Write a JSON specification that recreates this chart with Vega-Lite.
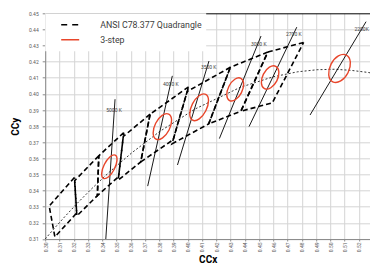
{
  "$schema": "https://vega.github.io/schema/vega-lite/v6.json",
  "autosize": "none",
  "width": 325,
  "height": 225.7,
  "padding": {"left": 45.2, "top": 13.3, "right": 0, "bottom": 27},
  "background": "white",
  "config": {
    "view": {"stroke": null},
    "font": "Roboto",
    "axis": {
      "labelFont": "Roboto", "labelFontSize": 5, "labelColor": "#595959",
      "gridColor": "#d4d4d4", "gridWidth": 1,
      "domainColor": "#8c8c8c", "tickColor": "#8c8c8c",
      "titleFont": "Roboto", "titleFontSize": 10, "titleFontWeight": "bold", "titleColor": "#000000"
    }
  },
  "datasets": {
    "quad": [
      {"cct": "2700K", "i": 0, "x": 0.4813, "y": 0.4319}, {"cct": "2700K", "i": 1, "x": 0.4562, "y": 0.4260}, {"cct": "2700K", "i": 2, "x": 0.4373, "y": 0.3893}, {"cct": "2700K", "i": 3, "x": 0.4593, "y": 0.3944}, {"cct": "2700K", "i": 4, "x": 0.4813, "y": 0.4319},
      {"cct": "3000K", "i": 0, "x": 0.4562, "y": 0.4260}, {"cct": "3000K", "i": 1, "x": 0.4299, "y": 0.4165}, {"cct": "3000K", "i": 2, "x": 0.4147, "y": 0.3814}, {"cct": "3000K", "i": 3, "x": 0.4373, "y": 0.3893}, {"cct": "3000K", "i": 4, "x": 0.4562, "y": 0.4260},
      {"cct": "3500K", "i": 0, "x": 0.4299, "y": 0.4165}, {"cct": "3500K", "i": 1, "x": 0.3996, "y": 0.4015}, {"cct": "3500K", "i": 2, "x": 0.3889, "y": 0.3690}, {"cct": "3500K", "i": 3, "x": 0.4147, "y": 0.3814}, {"cct": "3500K", "i": 4, "x": 0.4299, "y": 0.4165},
      {"cct": "4000K", "i": 0, "x": 0.4006, "y": 0.4044}, {"cct": "4000K", "i": 1, "x": 0.3736, "y": 0.3874}, {"cct": "4000K", "i": 2, "x": 0.3670, "y": 0.3578}, {"cct": "4000K", "i": 3, "x": 0.3898, "y": 0.3716}, {"cct": "4000K", "i": 4, "x": 0.4006, "y": 0.4044},
      {"cct": "4500K", "i": 0, "x": 0.3736, "y": 0.3874}, {"cct": "4500K", "i": 1, "x": 0.3548, "y": 0.3736}, {"cct": "4500K", "i": 2, "x": 0.3512, "y": 0.3465}, {"cct": "4500K", "i": 3, "x": 0.3670, "y": 0.3578}, {"cct": "4500K", "i": 4, "x": 0.3736, "y": 0.3874},
      {"cct": "5000K", "i": 0, "x": 0.3551, "y": 0.3760}, {"cct": "5000K", "i": 1, "x": 0.3376, "y": 0.3616}, {"cct": "5000K", "i": 2, "x": 0.3366, "y": 0.3369}, {"cct": "5000K", "i": 3, "x": 0.3515, "y": 0.3487}, {"cct": "5000K", "i": 4, "x": 0.3551, "y": 0.3760},
      {"cct": "5700K", "i": 0, "x": 0.3376, "y": 0.3616}, {"cct": "5700K", "i": 1, "x": 0.3207, "y": 0.3462}, {"cct": "5700K", "i": 2, "x": 0.3222, "y": 0.3243}, {"cct": "5700K", "i": 3, "x": 0.3366, "y": 0.3369}, {"cct": "5700K", "i": 4, "x": 0.3376, "y": 0.3616},
      {"cct": "6500K", "i": 0, "x": 0.3205, "y": 0.3481}, {"cct": "6500K", "i": 1, "x": 0.3028, "y": 0.3304}, {"cct": "6500K", "i": 2, "x": 0.3068, "y": 0.3113}, {"cct": "6500K", "i": 3, "x": 0.3221, "y": 0.3261}, {"cct": "6500K", "i": 4, "x": 0.3205, "y": 0.3481}
    ],
    "planck": [
      {"i": 0, "x": 0.3000, "y": 0.3100}, {"i": 1, "x": 0.3064, "y": 0.3166}, {"i": 2, "x": 0.3135, "y": 0.3236},
      {"i": 3, "x": 0.3221, "y": 0.3318}, {"i": 4, "x": 0.3324, "y": 0.3410}, {"i": 5, "x": 0.3451, "y": 0.3516},
      {"i": 6, "x": 0.3608, "y": 0.3635}, {"i": 7, "x": 0.3805, "y": 0.3768}, {"i": 8, "x": 0.4053, "y": 0.3907},
      {"i": 9, "x": 0.4369, "y": 0.4041}, {"i": 10, "x": 0.4599, "y": 0.4106}, {"i": 11, "x": 0.4770, "y": 0.4137},
      {"i": 12, "x": 0.4908, "y": 0.4150}, {"i": 13, "x": 0.5030, "y": 0.4153}, {"i": 14, "x": 0.5147, "y": 0.4146},
      {"i": 15, "x": 0.5267, "y": 0.4133}, {"i": 16, "x": 0.5390, "y": 0.4110}
    ],
    "iso": [
      {"cct": "5000K", "x": 0.3425, "y": 0.3098}, {"cct": "5000K", "x": 0.3490, "y": 0.3967},
      {"cct": "4000K", "x": 0.3719, "y": 0.3428}, {"cct": "4000K", "x": 0.3892, "y": 0.4112},
      {"cct": "3500K", "x": 0.3928, "y": 0.3559}, {"cct": "3500K", "x": 0.4149, "y": 0.4204},
      {"cct": "3000K", "x": 0.4222, "y": 0.3723}, {"cct": "3000K", "x": 0.4514, "y": 0.4359},
      {"cct": "2700K", "x": 0.4430, "y": 0.3797}, {"cct": "2700K", "x": 0.4765, "y": 0.4414},
      {"cct": "2200K", "x": 0.4858, "y": 0.3869}, {"cct": "2200K", "x": 0.5251, "y": 0.4448}
    ],
    "ellipse": [
      {"cct": "5000K", "x": 0.3450, "y": 0.3548},
      {"cct": "4000K", "x": 0.3822, "y": 0.3797},
      {"cct": "3500K", "x": 0.4080, "y": 0.3917},
      {"cct": "3000K", "x": 0.4333, "y": 0.4028},
      {"cct": "2700K", "x": 0.4578, "y": 0.4102},
      {"cct": "2200K", "x": 0.5065, "y": 0.4158}
    ],
    "labels": [
      {"label": "5000 K", "x": 0.3483, "y": 0.3900},
      {"label": "4000 K", "x": 0.3881, "y": 0.4060},
      {"label": "3500 K", "x": 0.4147, "y": 0.4165},
      {"label": "3000 K", "x": 0.4498, "y": 0.4310},
      {"label": "2700 K", "x": 0.4744, "y": 0.4370},
      {"label": "2200K", "x": 0.5220, "y": 0.4404}
    ]
  },
  "encoding": {
    "x": {
      "field": "x", "type": "quantitative",
      "scale": {"domain": [0.3, 0.528], "nice": false, "zero": false},
      "axis": {
        "title": "CCx", "values": [0.30,0.31,0.32,0.33,0.34,0.35,0.36,0.37,0.38,0.39,0.40,0.41,0.42,0.43,0.44,0.45,0.46,0.47,0.48,0.49,0.50,0.51,0.52],
        "format": ".2f", "labelAngle": 270, "tickSize": 2, "labelPadding": 1, "titlePadding": 3
      }
    },
    "y": {
      "field": "y", "type": "quantitative",
      "scale": {"domain": [0.31, 0.45], "nice": false, "zero": false},
      "axis": {
        "title": "CCy", "values": [0.31,0.32,0.33,0.34,0.35,0.36,0.37,0.38,0.39,0.40,0.41,0.42,0.43,0.44,0.45],
        "format": ".2f", "tickSize": 3, "labelPadding": 4, "titlePadding": 8,
        "gridColor": {"condition": {"test": "datum.value >= 0.4495", "value": "#000000"}, "value": "#d4d4d4"}
      }
    }
  },
  "layer": [
    {
      "data": {"name": "quad"},
      "mark": {"type": "line", "strokeDash": [5, 3], "strokeWidth": 1.6, "clip": true},
      "encoding": {
        "order": {"field": "i", "type": "quantitative"},
        "detail": {"field": "cct", "type": "nominal"},
        "color": {
          "datum": "ANSI C78.377 Quadrangle", "type": "nominal",
          "scale": {"domain": ["ANSI C78.377 Quadrangle", "3-step"], "range": ["#000000", "#e8462b"]},
          "legend": {
            "title": null, "orient": "top-left", "offset": 0, "padding": 4,
            "fillColor": "white", "symbolType": "stroke", "symbolSize": 324,
            "symbolStrokeWidth": 1.5, "symbolOffset": 11,
            "labelFont": "Roboto", "labelFontSize": 8.8, "labelColor": "#404040",
            "labelOffset": 20, "rowPadding": 0, "clipHeight": 15,
            "encode": {"symbols": {"update": {"strokeDash": [{"test": "datum.value === '3-step'", "value": [1, 0]}, {"value": [6, 5]}]}}}
          }
        }
      }
    },
    {
      "data": {"name": "planck"},
      "mark": {"type": "line", "color": "#000000", "strokeWidth": 0.8, "strokeDash": [2, 2], "clip": true},
      "encoding": {"order": {"field": "i", "type": "quantitative"}}
    },
    {
      "data": {"name": "iso"},
      "mark": {"type": "line", "color": "#000000", "strokeWidth": 0.9, "clip": true},
      "encoding": {"detail": {"field": "cct", "type": "nominal"}}
    },
    {
      "data": {"name": "ellipse"},
      "mark": {"type": "point", "filled": false, "strokeWidth": 1.4, "size": 1024, "angle": 27, "opacity": 1, "clip": true},
      "encoding": {
        "color": {"datum": "3-step", "type": "nominal"},
        "shape": {
          "field": "cct", "type": "nominal", "legend": null,
          "scale": {
            "domain": ["5000K", "4000K", "3500K", "3000K", "2700K", "2200K"],
            "range": [
              "M0,-0.8125C0.19,-0.8125,0.344,-0.449,0.344,0C0.344,0.449,0.19,0.8125,0,0.8125C-0.19,0.8125,-0.344,0.449,-0.344,0C-0.344,-0.449,-0.19,-0.8125,0,-0.8125Z",
              "M0,-0.875C0.259,-0.875,0.469,-0.483,0.469,0C0.469,0.483,0.259,0.875,0,0.875C-0.259,0.875,-0.469,0.483,-0.469,0C-0.469,-0.483,-0.259,-0.875,0,-0.875Z",
              "M0,-0.906C0.259,-0.906,0.469,-0.5,0.469,0C0.469,0.5,0.259,0.906,0,0.906C-0.259,0.906,-0.469,0.5,-0.469,0C-0.469,-0.5,-0.259,-0.906,0,-0.906Z",
              "M0,-0.781C0.242,-0.781,0.4375,-0.431,0.4375,0C0.4375,0.431,0.242,0.781,0,0.781C-0.242,0.781,-0.4375,0.431,-0.4375,0C-0.4375,-0.431,-0.242,-0.781,0,-0.781Z",
              "M0,-0.781C0.259,-0.781,0.469,-0.431,0.469,0C0.469,0.431,0.259,0.781,0,0.781C-0.259,0.781,-0.469,0.431,-0.469,0C-0.469,-0.431,-0.259,-0.781,0,-0.781Z",
              "M0,-0.9375C0.328,-0.9375,0.594,-0.518,0.594,0C0.594,0.518,0.328,0.9375,0,0.9375C-0.328,0.9375,-0.594,0.518,-0.594,0C-0.594,-0.518,-0.328,-0.9375,0,-0.9375Z"
            ]
          }
        }
      }
    },
    {
      "data": {"name": "labels"},
      "mark": {"type": "text", "font": "Roboto", "fontSize": 5, "color": "#404040", "align": "center", "baseline": "middle"},
      "encoding": {"text": {"field": "label", "type": "nominal"}}
    }
  ]
}
